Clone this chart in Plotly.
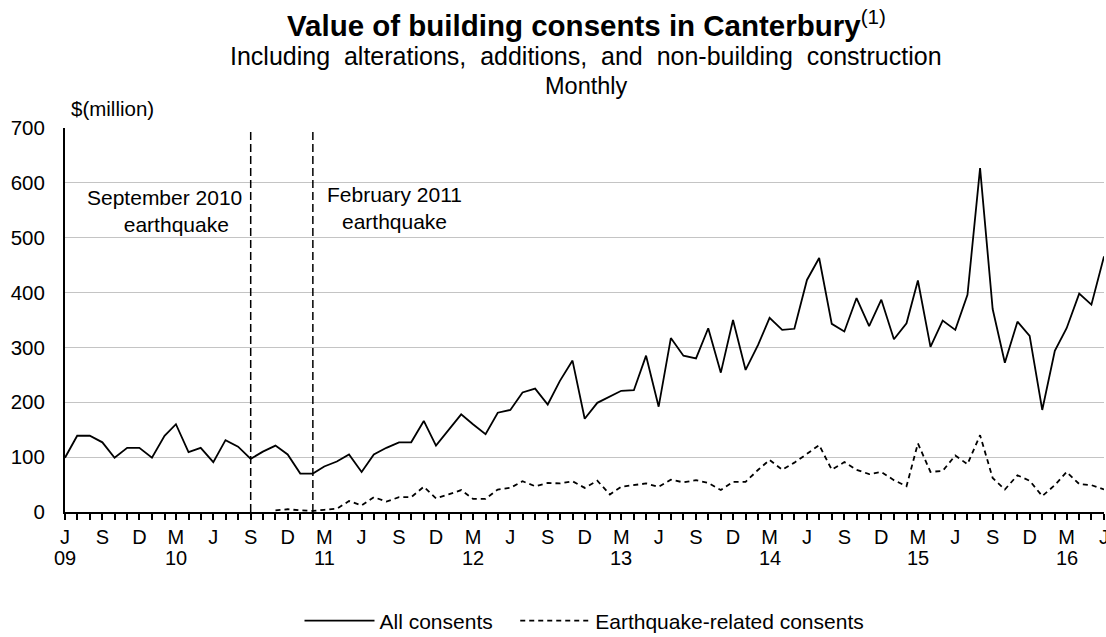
import plotly.graph_objects as go
import pandas as pd

# ---- data ----
months = [d.strftime("%Y-%m-%d") for d in pd.date_range("2009-06-01", periods=85, freq="MS")]

all_consents = [99, 139, 139, 127, 99, 117, 117, 99, 139, 160, 109, 117, 91, 131, 119,
                97, 110, 121, 105, 70, 70, 83, 92, 105, 73, 105, 117, 127, 127, 166,
                121, 149, 178, 160, 142, 181, 186, 218, 225, 196, 239, 276, 170, 199, 211,
                221, 222, 285, 192, 317, 285, 280, 335, 254, 350, 259, 305, 354, 332, 334,
                423, 463, 343, 329, 390, 339, 387, 315, 344, 422, 301, 349, 332, 396, 627,
                370, 272, 347, 321, 186, 294, 335, 398, 378, 466]

eq_related = [None] * 17 + [3, 5, 3, 2, 4, 6, 20, 12, 27, 19, 27, 27, 46,
                            25, 32, 40, 24, 24, 41, 44, 56, 47, 53, 52, 56, 44, 57, 32,
                            46, 49, 52, 46, 59, 54, 58, 53, 40, 55, 55, 77, 95, 77, 90,
                            106, 122, 77, 91, 77, 69, 73, 58, 47, 125, 73, 75, 103, 87, 140,
                            62, 41, 67, 57, 29, 49, 73, 51, 49, 41]

month_letters = {6: "J", 9: "S", 12: "D", 3: "M"}
tick_vals, tick_labels = [], []
year_vals, year_labels = [], []
for i, m in enumerate(months):
    yr, mo = int(m[:4]), int(m[5:7])
    if mo in month_letters:
        tick_vals.append(m)
        tick_labels.append(month_letters[mo])
        if mo == 3 or i == 0:
            year_vals.append(m)
            year_labels.append(str(yr)[2:])

events = ["2010-09-01", "2011-02-01"]
event_text = ["September 2010<br>&nbsp;&nbsp;&nbsp;&nbsp;earthquake", "February 2011<br>earthquake"]

# ---- figure ----
FONT = "Liberation Sans, Arial, sans-serif"
fig = go.Figure()
fig.add_trace(go.Scatter(x=months, y=all_consents, mode="lines", name="All consents&nbsp;&nbsp;&nbsp;",
                         line=dict(color="black", width=1.8), cliponaxis=False))
fig.add_trace(go.Scatter(x=months, y=eq_related, mode="lines", name="Earthquake-related consents",
                         line=dict(color="black", width=1.8, dash="5px,4px"), cliponaxis=False))

for ev in events:
    fig.add_shape(type="line", xref="x", yref="y", x0=ev, x1=ev, y0=0, y1=700,
                  line=dict(color="black", width=1.5, dash="8px,4px"))

L, R = 65, 1104
H0, PT = 512, 128  # pixel rows of y=0 and y=700
def py(p):
    return (H0 - p) / (H0 - PT)
def px(p):
    return (p - L) / (R - L)

fig.add_annotation(x=px(164), y=py(211), xref="paper", yref="paper", text=event_text[0],
                   xanchor="center", yanchor="middle",
                   showarrow=False, align="center", font=dict(size=21, color="black", family=FONT))
fig.add_annotation(x=px(394), y=py(208), xref="paper", yref="paper", text=event_text[1],
                   xanchor="center", yanchor="middle",
                   showarrow=False, align="center", font=dict(size=21, color="black", family=FONT))

for yv, yl in zip(year_vals, year_labels):
    fig.add_annotation(x=yv, y=py(558), xref="x", yref="paper", text=yl, showarrow=False,
                       xanchor="center", yanchor="middle", borderpad=0,
                       font=dict(size=20, color="black", family=FONT))

fig.add_annotation(x=px(69), y=py(108), xref="paper", yref="paper", xanchor="left",
                   yanchor="middle",
                   text="$(million)", showarrow=False, font=dict(size=20.5, color="black", family=FONT))

cx = px(586)
fig.add_annotation(x=cx, y=py(23), xref="paper", yref="paper", showarrow=False,
                   xanchor="center", yanchor="middle",
                   text="<b>Value of building consents in Canterbury</b><sup>(1)</sup>",
                   font=dict(size=29.5, color="black", family=FONT))
sub = "Including alterations, additions, and non-building construction".replace(" ", "&nbsp;&nbsp;")
fig.add_annotation(x=cx, y=py(56), xref="paper", yref="paper", showarrow=False,
                   xanchor="center", yanchor="middle",
                   text=sub, font=dict(size=25, color="black", family=FONT))
fig.add_annotation(x=cx, y=py(86), xref="paper", yref="paper", showarrow=False,
                   xanchor="center", yanchor="middle",
                   text="Monthly", font=dict(size=23.5, color="black", family=FONT))

fig.update_layout(
    width=1106, height=637, autosize=False,
    margin=dict(l=L, r=1106 - R, t=PT, b=637 - H0, autoexpand=False),
    paper_bgcolor="white", plot_bgcolor="white",
    font=dict(family=FONT, size=20, color="black"),
    showlegend=True,
    legend=dict(orientation="h", x=0.5, xanchor="center", y=py(621), yanchor="middle",
                itemwidth=70, font=dict(size=21, family=FONT), bgcolor="rgba(0,0,0,0)"),
    xaxis=dict(type="date", range=[months[0], months[-1]], tickmode="array",
               tickvals=tick_vals, ticktext=tick_labels, ticklabeloverflow="allow",
               ticks="outside", ticklen=6, tickwidth=1.5, tickcolor="black",
               minor=dict(ticks="outside", ticklen=6, tickwidth=1.5, tickcolor="black",
                          dtick="M1", tick0=months[0], showgrid=False),
               showline=True, linecolor="black", linewidth=2, showgrid=False,
               tickangle=0, automargin=False, tickfont=dict(size=20, family=FONT)),
    yaxis=dict(range=[0, 700], dtick=100, showgrid=True, gridcolor="#c4c4c4", gridwidth=1,
               showline=True, linecolor="black", linewidth=2, zeroline=False,
               ticks="outside", ticklen=14, tickcolor="rgba(0,0,0,0)", automargin=False,
               tickfont=dict(size=20.5, family=FONT)),
)

fig.write_html("out.html", config={"displayModeBar": False},
               post_script="document.body.style.margin='0px';")
